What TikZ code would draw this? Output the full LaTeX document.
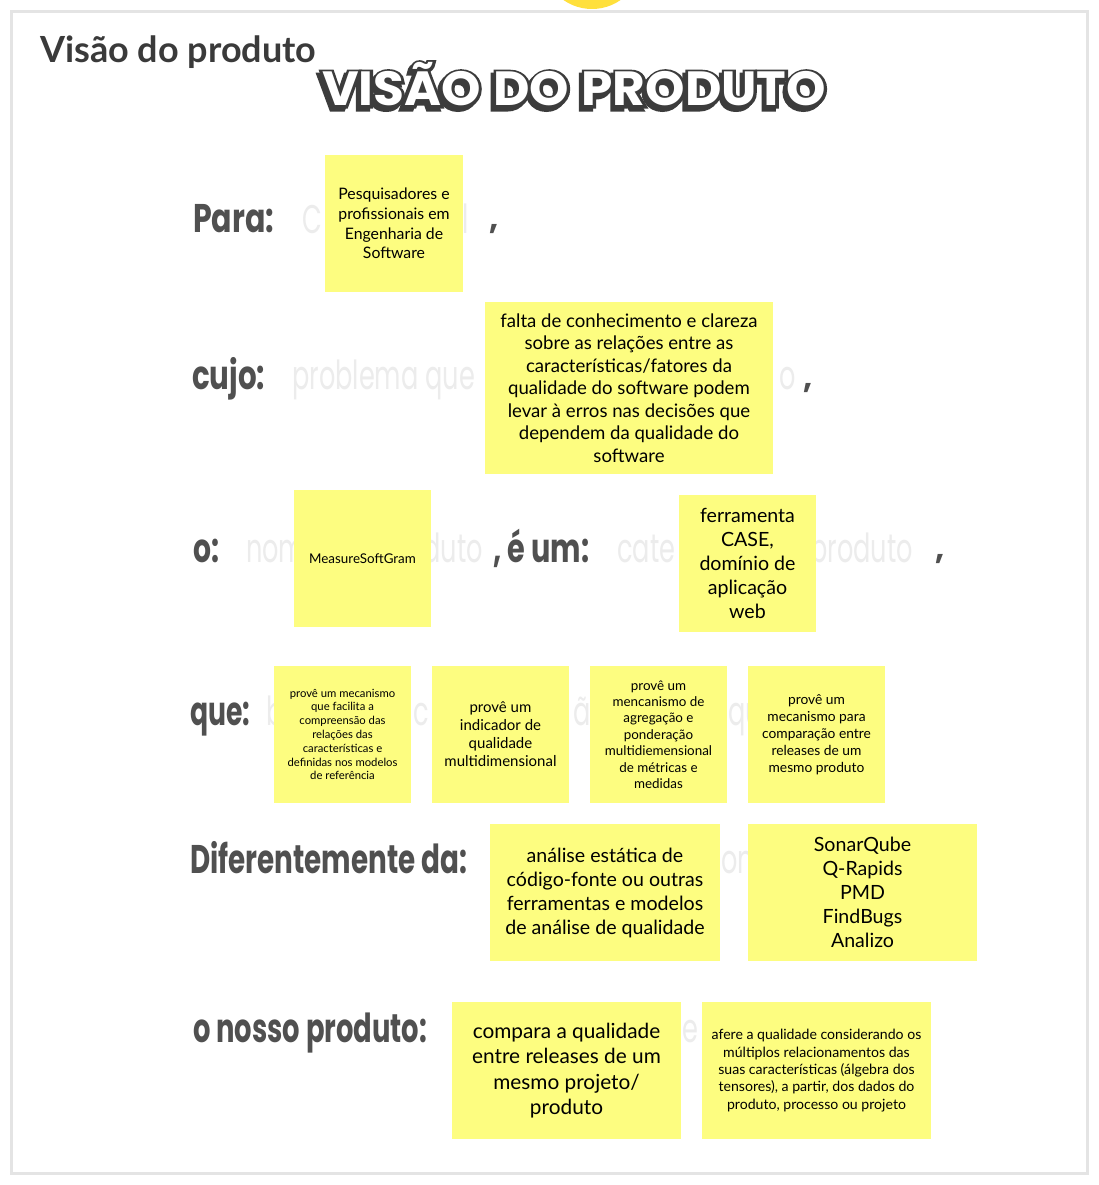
\documentclass[tikz,border=0pt]{standalone}
\usepackage{fontspec}
\usepackage{graphicx}
\usetikzlibrary{calc}
\setmainfont{Lato}
\newfontfamily\hand{Poppins}
\newfontfamily\ttlthick{Poppins}[BoldFeatures={FakeBold=11}]
\definecolor{sticky}{RGB}{253,253,128}
\definecolor{labelgray}{RGB}{80,80,80}
\definecolor{fadegray}{RGB}{236,236,236}
\definecolor{framegray}{RGB}{228,228,228}
\definecolor{dotyellow}{RGB}{255,224,60}
\definecolor{headgray}{RGB}{58,58,58}
\definecolor{titledark}{RGB}{60,60,60}
\newcommand\lblw[2]{\resizebox{#1pt}{\height}{#2}}
\newcommand\fadew[1]{\scalebox{0.64}[1]{#1}}
\newcommand\ttltext{\resizebox{504pt}{\height}{VISÃO\hspace{12pt}DO\hspace{12pt}PRODUTO}}
\tikzset{
  sticky/.style={fill=sticky, inner sep=0pt, align=center, text=black},
  lbl/.style={inner sep=0pt, anchor=base west, text=labelgray, font=\hand\bfseries\fontsize{40}{40}\selectfont},
  comma/.style={inner sep=0pt, anchor=base west, text=labelgray, font=\hand\bfseries\fontsize{32}{32}\selectfont},
  faded/.style={inner sep=0pt, text=fadegray, font=\hand\fontsize{40}{40}\selectfont},
  ttlback/.style={inner sep=0pt, anchor=base, text=titledark, font=\ttlthick\bfseries\fontsize{48}{48}\selectfont},
  ttl/.style={inner sep=0pt, anchor=base, text=white, font=\hand\bfseries\fontsize{48}{48}\selectfont}
}
\begin{document}
\begin{tikzpicture}[x=1pt,y=-1pt]
\useasboundingbox (0,0) rectangle (1099,1185);
\clip (0,0) rectangle (1099,1185);
\fill[white] (0,0) rectangle (1099,1185);
% yellow dot at top
\fill[dotyellow] (592,-41) circle (50);
% frame
\draw[framegray, line width=3pt] (11.5,11.5) rectangle (1087.5,1173.5);
% header
\node[anchor=base west, inner sep=0pt, text=headgray, font=\bfseries\fontsize{36}{40}\selectfont] (header) at (40,63) {Visão do produto};
% title: shadow, outline, white fill
\node[ttlback] (titleshadow) at (571,109) {\ttltext};
\node[ttlback] (titleoutline) at (574,106) {\ttltext};
\node[ttl] (title) at (574,106) {\ttltext};

% visible parts of the faded template text
\node[faded, anchor=base west] (f1a) at (302,233) {\fadew{C}};
\node[faded, anchor=base east] (f1b) at (469,233) {\fadew{l}};
\node[faded, anchor=base west] (f2a) at (292,389) {\fadew{problema que}};
\node[faded, anchor=base east] (f2b) at (796,389) {\fadew{o}};
\node[faded, anchor=base west] (f3a) at (246,562) {\fadew{nom}};
\node[faded, anchor=base east] (f3b) at (483,562) {\fadew{duto}};
\node[faded, anchor=base west] (f4a) at (617,562) {\fadew{cate}};
\node[faded, anchor=base east] (f4b) at (913,562) {\fadew{produto}};
\node[faded, anchor=base west] (f5a) at (266,725) {\fadew{b}};
\node[faded, anchor=base west] (f5b) at (413,725) {\fadew{c}};
\node[faded, anchor=base east] (f5c) at (591,725) {\fadew{ã}};
\node[faded, anchor=base west] (f5d) at (728,725) {\fadew{qu}};
\node[faded, anchor=base west] (f6a) at (721,873) {\fadew{on}};
\node[faded, anchor=base east] (f7a) at (699,1042) {\fadew{e}};

% labels
\node[lbl] (para) at (193,233) {\lblw{81}{Para:}};
\node[comma] (comma1) at (489,229) {,};
\node[lbl] (cujo) at (192,389) {\lblw{73}{cujo:}};
\node[comma] (comma2) at (803,388) {,};
\node[lbl] (o) at (193,562) {\lblw{26}{o:}};
\node[lbl] (eum) at (493,562) {\lblw{96}{, é um:}};
\node[comma] (comma3) at (935,559) {,};
\node[lbl] (que) at (190,725) {\lblw{60}{que:}};
\node[lbl] (dif) at (190,873) {\lblw{277}{Diferentemente da:}};
\node[lbl] (nosso) at (193,1042) {\lblw{234}{o nosso produto:}};

% sticky notes
\node[sticky, minimum width=138pt, minimum height=137pt, font=\fontsize{15.8}{19.7}\selectfont] (s1) at (394,223.5)
  {Pesquisadores e\\profissionais em\\Engenharia de\\Software};
\node[sticky, minimum width=288pt, minimum height=172pt, font=\fontsize{18.6}{22.5}\selectfont] (s2) at (629,388)
  {falta de conhecimento e clareza\\sobre as relações entre as\\características/fatores da\\qualidade do software podem\\levar à erros nas decisões que\\dependem da qualidade do\\software};
\node[sticky, minimum width=137pt, minimum height=137pt, font=\fontsize{13.4}{16}\selectfont] (s3) at (362.5,558.5)
  {MeasureSoftGram};
\node[sticky, minimum width=137pt, minimum height=137pt, font=\fontsize{19.6}{24}\selectfont] (s4) at (747.5,563.5)
  {ferramenta\\CASE,\\domínio de\\aplicação\\web};
\node[sticky, minimum width=137pt, minimum height=137pt, font=\fontsize{11.3}{13.8}\selectfont] (q1) at (342.5,734.5)
  {provê um mecanismo\\que facilita a\\compreensão das\\relações das\\características e\\definidas nos modelos\\de referência};
\node[sticky, minimum width=137pt, minimum height=137pt, font=\fontsize{15}{18}\selectfont] (q2) at (500.5,734.5)
  {provê um\\indicador de\\qualidade\\multidimensional};
\node[sticky, minimum width=137pt, minimum height=137pt, font=\fontsize{13.4}{16.4}\selectfont] (q3) at (658.5,734.5)
  {provê um\\mencanismo de\\agregação e\\ponderação\\multidiemensional\\de métricas e\\medidas};
\node[sticky, minimum width=137pt, minimum height=137pt, font=\fontsize{13.8}{17}\selectfont] (q4) at (816.5,734.5)
  {provê um\\mecanismo para\\comparação entre\\releases de um\\mesmo produto};
\node[sticky, minimum width=230pt, minimum height=137pt, font=\fontsize{19.6}{24}\selectfont] (d1) at (605,892.5)
  {análise estática de\\código-fonte ou outras\\ferramentas e modelos\\de análise de qualidade};
\node[sticky, minimum width=229pt, minimum height=137pt, font=\fontsize{19.6}{24}\selectfont] (d2) at (862.5,892.5)
  {SonarQube\\Q-Rapids\\PMD\\FindBugs\\Analizo};
\node[sticky, minimum width=229pt, minimum height=137pt, font=\fontsize{20.8}{25.5}\selectfont] (n1) at (566.5,1070.5)
  {compara a qualidade\\entre releases de um\\mesmo projeto/\\produto};
\node[sticky, minimum width=229pt, minimum height=137pt, font=\fontsize{14.1}{17.3}\selectfont] (n2) at (816.5,1070.5)
  {afere a qualidade considerando os\\múltiplos relacionamentos das\\suas características (álgebra dos\\tensores), a partir, dos dados do\\produto, processo ou projeto};
\end{tikzpicture}
\end{document}
